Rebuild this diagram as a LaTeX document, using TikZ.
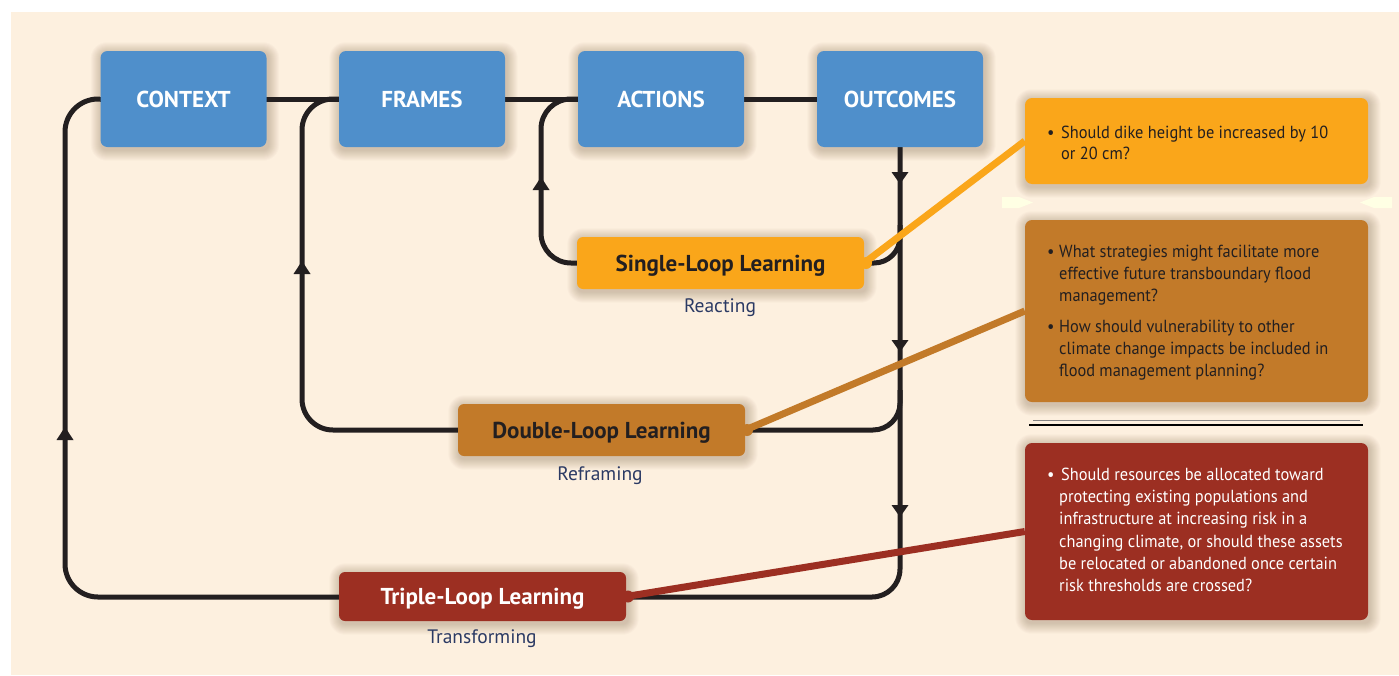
\documentclass[tikz,border=0pt]{standalone}
\usepackage{fontspec}
\setmainfont{PT Sans}
\newfontfamily\qfont[FakeStretch=0.935]{PT Sans}
\newfontfamily\lfont{PT Sans}
\newfontfamily\tfont{PT Sans Bold}
\usetikzlibrary{calc}
\pgfdeclarelayer{backdrop}
\pgfdeclarelayer{shade}
\pgfsetlayers{backdrop,shade,main}
\definecolor{cream}{HTML}{FDF0DF}
\definecolor{boxblue}{HTML}{4F8FCB}
\definecolor{sglc}{HTML}{FAA61A}
\definecolor{dblc}{HTML}{C27A29}
\definecolor{trpc}{HTML}{9C2F22}
\definecolor{ink}{HTML}{231F20}
\definecolor{navy}{HTML}{2B3A64}
\definecolor{paleyel}{HTML}{FFFFE4}
\definecolor{shadowc}{HTML}{5A3A1A}
\tikzset{
  stage/.style={fill=boxblue, rounded corners=7pt, minimum width=166pt, minimum height=96pt, text=white, font=\tfont\fontsize{23}{26}\selectfont, inner sep=0pt},
  loopbox/.style={rounded corners=6pt, minimum width=287pt, minimum height=52pt, font=\tfont\fontsize{23}{26}\selectfont, text depth=0pt, inner sep=0pt},
  qbox/.style={rounded corners=7pt, minimum width=343pt, inner sep=0pt},
  qline/.style={anchor=base west, inner sep=0pt, font=\qfont\fontsize{17.5}{21}\selectfont},
  sublabel/.style={anchor=base, inner sep=0pt, text=navy, font=\lfont\fontsize{19.5}{22}\selectfont},
  flow/.style={draw=ink, line width=5pt},
  link/.style={line width=7pt},
  uptip/.style={fill=ink},
  shadestep/.style={fill=shadowc, opacity=0.022},
}
\begin{document}
\begin{tikzpicture}[x=1pt,y=-1pt]
\useasboundingbox (0,0) rectangle (1399,675);
\begin{pgfonlayer}{backdrop}
\fill[white] (0,0) rectangle (1399,675);
\fill[cream] (11,12) rectangle (1399,675);
\end{pgfonlayer}

% separators on the right
\fill[paleyel] (1002,197) -- (1019,197) -- (1033,202.5) -- (1019,208) -- (1002,208) -- cycle;
\fill[paleyel] (1392,197) -- (1374,197) -- (1360,202.5) -- (1374,208) -- (1392,208) -- cycle;
\draw[color=ink!55, line width=0.8pt] (1033,420.3) -- (1360,420.3);
\draw[color=black, line width=1.1pt] (1029,425) -- (1363,425);

% coordinates
\coordinate (outerc) at (65,597);
\coordinate (framec) at (302,430);
\coordinate (actc) at (541,263);
\coordinate (sglj) at (900,225);
\coordinate (dblj) at (900,390);
\path (183.5,99) coordinate (pctx) (422,99) coordinate (pfrm) (661,99) coordinate (pact) (900,99) coordinate (pout);
\path (720.5,263) coordinate (psgl) (601.5,430) coordinate (pdbl) (482.5,596.5) coordinate (ptri);

% loops (under the boxes)
\draw[flow] (100,99) -- (817,99);
\draw[flow, rounded corners=33pt] (100,99) -| (outerc) -- (339,597);
\draw[flow, rounded corners=31pt] (339,99) -| (framec) -- (458,430);
\draw[flow, rounded corners=30pt] (578,99) -| (actc) -- (577,263);
\draw[flow, rounded corners=28pt] (900,147) |- (626,597);
\draw[flow, rounded corners=26pt] (864,263) -| (sglj);
\draw[flow, rounded corners=27pt] (745,430) -| (dblj);

% arrowheads
\fill[uptip] (65,427) -- (73.5,440) -- (56.5,440) -- cycle;
\fill[uptip] (302,261) -- (310.5,274) -- (293.5,274) -- cycle;
\fill[uptip] (541,177) -- (549.5,190) -- (532.5,190) -- cycle;
\fill[uptip] (900,184) -- (908.5,172) -- (891.5,172) -- cycle;
\fill[uptip] (900,352) -- (908.5,340) -- (891.5,340) -- cycle;
\fill[uptip] (900,517) -- (908.5,505) -- (891.5,505) -- cycle;

% stage boxes
\node[stage] (ctx) at (pctx) {CONTEXT};
\node[stage] (frm) at (pfrm) {FRAMES};
\node[stage] (act) at (pact) {ACTIONS};
\node[stage] (out) at (pout) {OUTCOMES};

% loop boxes
\node[loopbox, fill=sglc, text=ink] (sgl) at (psgl) {Single-Loop Learning};
\node[loopbox, fill=dblc, text=ink] (dbl) at (pdbl) {Double-Loop Learning};
\node[loopbox, fill=trpc, text=white, minimum height=49pt] (tri) at (ptri) {Triple-Loop Learning};

\node[sublabel] (lsgl) at (720,312) {Reacting};
\node[sublabel] (ldbl) at (600,480) {Reframing};
\node[sublabel] (ltri) at (482,643) {Transforming};

% question boxes
\node[qbox, fill=sglc, minimum height=86pt] (qs) at (1196.5,141) {};
\node[qbox, fill=dblc, minimum height=182pt] (qd) at (1196.5,311) {};
\node[qbox, fill=trpc, minimum height=177pt] (qt) at (1196.5,531.5) {};

% soft shadows
\begin{pgfonlayer}{shade}
\foreach \n in {ctx,frm,act,out,sgl,dbl,tri,qs,qd,qt}{
  \foreach \i in {1,...,11}{
    \fill[shadestep, rounded corners=\i pt+5pt]
      ($(\n.south west)+(-\i+1.5,\i+2.5)$) rectangle ($(\n.north east)+(\i+1.5,-\i+2.5)$);
  }
}
\end{pgfonlayer}

% links
\draw[link, sglc] (sgl.east) -- (qs.west);
\fill[sglc] (866,263) circle (6pt);
\draw[link, dblc] (dbl.east) -- (qd.west);
\fill[dblc] (747,430) circle (6pt);
\draw[link, trpc] (tri.east) -- (qt.west);
\fill[trpc] (628,596.5) circle (6pt);

% question texts
\begin{scope}[every node/.style={qline, text=ink}]
\node (b1) at (1047,138) {•};
\node (s1) at (1061,138) {Should dike height be increased by 10};
\node (s2) at (1061,159.5) {or 20 cm?};
\node (b2) at (1047,257) {•};
\node (d1) at (1059,257) {What strategies might facilitate more};
\node (d2) at (1059,279) {effective future transboundary flood};
\node (d3) at (1059,301) {management?};
\node (b3) at (1047,332) {•};
\node (d4) at (1059,332) {How should vulnerability to other};
\node (d5) at (1059,354) {climate change impacts be included in};
\node (d6) at (1059,376) {flood management planning?};
\end{scope}
\begin{scope}[every node/.style={qline, text=white}]
\node (b4) at (1047,480) {•};
\node (t1) at (1061,480) {Should resources be allocated toward};
\node (t2) at (1059,502) {protecting existing populations and};
\node (t3) at (1059,524.5) {infrastructure at increasing risk in a};
\node (t4) at (1059,547) {changing climate, or should these assets};
\node (t5) at (1059,569) {be relocated or abandoned once certain};
\node (t6) at (1059,591.5) {risk thresholds are crossed?};
\end{scope}
\end{tikzpicture}
\end{document}
